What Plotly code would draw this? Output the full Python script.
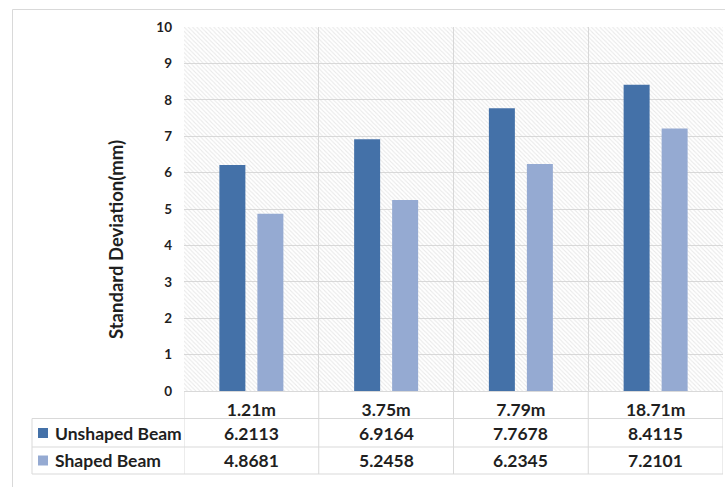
import plotly.graph_objects as go

# Data
categories = ["1.21m", "3.75m", "7.79m", "18.71m"]
unshaped = [6.2113, 6.9164, 7.7678, 8.4115]
shaped = [4.8681, 5.2458, 6.2345, 7.2101]
series_names = ["Unshaped Beam", "Shaped Beam"]
series_values = [unshaped, shaped]
colors = ["#4471A8", "#95AAD2"]
y_ticks = list(range(0, 11))
y_title = "Standard Deviation(mm)"

FONT = "Lato"
TXT = "#1f1f1f"
GRID = "#d9d9d9"

# Figure geometry (pixels)
W, H = 725, 487
L, R, T, B = 184, 2, 27, 96
PW = W - L - R
PH = H - T - B


def px_x(px):
    return (px - L) / PW


def px_y(py):
    return (H - B - py) / PH


n = len(categories)
idx = list(range(n))
x_lo, x_hi = -0.5, n - 0.5
y_lo, y_hi = y_ticks[0], y_ticks[-1]

# bar geometry in category units
cat_px = PW / n
bar_w = 26 / cat_px
half_sep = 19 / cat_px
offsets = [-half_sep - bar_w / 2, half_sep - bar_w / 2]

fig = go.Figure()

# Hatched plot-area background, drawn first so the bars sit on top
fig.add_trace(go.Bar(
    x=[(x_lo + x_hi) / 2], y=[y_hi - y_lo], base=[y_lo], width=[x_hi - x_lo],
    marker=dict(color="rgba(0,0,0,0)", line_width=0,
                pattern=dict(shape="\\", fgcolor="#d3d3d3", bgcolor="rgba(0,0,0,0)",
                             size=3, solidity=0.35)),
    hoverinfo="skip", showlegend=False,
))

for name, vals, c, off in zip(series_names, series_values, colors, offsets):
    fig.add_trace(go.Bar(x=idx, y=vals, name=name, width=bar_w, offset=off,
                         marker=dict(color=c, line_width=0),
                         showlegend=False))

fig.update_layout(
    width=W, height=H,
    margin=dict(l=L, r=R, t=T, b=B, pad=0),
    paper_bgcolor="white", plot_bgcolor="white",
    barmode="overlay",
    font=dict(family=FONT, color=TXT),
    showlegend=False,
)

fig.update_xaxes(
    range=[x_lo, x_hi], tickvals=idx, ticktext=categories,
    showgrid=False, zeroline=False, ticks="",
    minor=dict(tickvals=[i - 0.5 for i in range(n + 1)], showgrid=True,
               gridcolor=GRID, gridwidth=1, ticks=""),
    showline=True, linecolor=GRID, linewidth=1,
    tickfont=dict(family=FONT, size=17.5, color=TXT, weight=700),
    ticklabelstandoff=3,
)
fig.update_yaxes(
    range=[y_lo, y_hi], tickvals=y_ticks,
    showgrid=True, gridcolor=GRID, gridwidth=1, zeroline=False, ticks="",
    tickfont=dict(family=FONT, size=13.5, color=TXT, weight=700),
    ticklabelstandoff=11,
)

shapes = []
line = dict(color=GRID, width=1)

# Outer chart frame
shapes.append(dict(type="rect", xref="paper", yref="paper",
                   x0=px_x(12.5), x1=px_x(W + 20), y0=px_y(9.5), y1=px_y(H + 20),
                   line=line, fillcolor="rgba(0,0,0,0)", layer="below"))

# Data table grid
row_lines = [418.5, 447, 474]
for ry in row_lines:
    shapes.append(dict(type="line", xref="paper", yref="paper",
                       x0=px_x(32), x1=1, y0=px_y(ry), y1=px_y(ry), line=line))
shapes.append(dict(type="line", xref="paper", yref="paper",
                   x0=px_x(32), x1=px_x(32), y0=px_y(row_lines[0]), y1=px_y(row_lines[-1]),
                   line=line))
for i in range(n + 1):
    shapes.append(dict(type="line", xref="x", yref="paper",
                       x0=i - 0.5, x1=i - 0.5, y0=0, y1=px_y(row_lines[-1]), line=line))

annotations = []
row_centers = [433, 460.5]
for name, vals, c, ry in zip(series_names, series_values, colors, row_centers):
    # legend key
    shapes.append(dict(type="rect", xref="paper", yref="paper",
                       x0=px_x(38), x1=px_x(48), y0=px_y(ry - 5), y1=px_y(ry + 5),
                       line_width=0, fillcolor=c))
    annotations.append(dict(xref="paper", yref="paper", x=px_x(53), y=px_y(ry),
                            text=name, showarrow=False, xanchor="left", yanchor="middle",
                            font=dict(family=FONT, size=17.5, color=TXT, weight=700)))
    for i, v in enumerate(vals):
        annotations.append(dict(xref="x", yref="paper", x=i, y=px_y(ry),
                                text=f"{v:.4f}", showarrow=False,
                                xanchor="center", yanchor="middle",
                                font=dict(family=FONT, size=17.5, color=TXT, weight=700)))

# Y axis title
annotations.append(dict(xref="paper", yref="paper", x=px_x(116), y=px_y(240),
                        text=y_title, textangle=-90, showarrow=False,
                        xanchor="center", yanchor="middle",
                        font=dict(family=FONT, size=18.5, color=TXT, weight=700)))

fig.update_layout(shapes=shapes, annotations=annotations)

fig.write_html("out.html")
